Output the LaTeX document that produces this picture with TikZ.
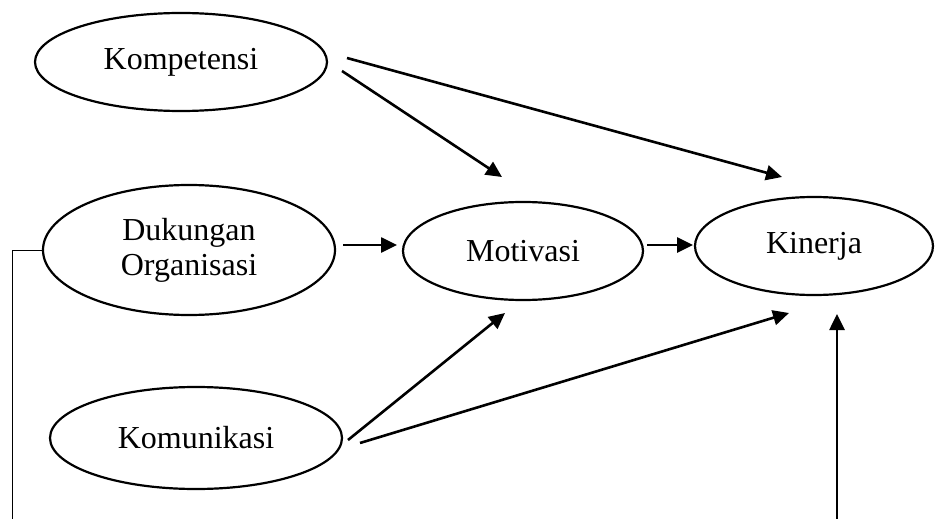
\documentclass[tikz,border=0pt]{standalone}
\usepackage{fontspec}
\setmainfont{Liberation Serif}
\usetikzlibrary{arrows.meta,shapes.geometric}
\begin{document}
\begin{tikzpicture}[x=1pt,y=-1pt,
  var/.style={ellipse, draw, line width=2.2pt, inner sep=0pt,
              font=\fontsize{32}{35}\selectfont, align=center},
  link/.style={line width=2.6pt, -{Triangle[length=16pt,width=15pt]}},
  feed/.style={line width=1pt}]
\useasboundingbox (0,0) rectangle (935,519);

% variables
\node[var, minimum width=292pt, minimum height=98pt]  (komp)   at (181,62)  {Kompetensi};
\node[var, minimum width=292pt, minimum height=130pt] (dukung) at (189,250) {Dukungan\\Organisasi};
\node[var, minimum width=240pt, minimum height=98pt]  (moti)   at (523,251) {Motivasi};
\node[var, minimum width=238pt, minimum height=98pt]  (kin)    at (814,246) {Kinerja};
\node[var, minimum width=292pt, minimum height=102pt] (komu)   at (196,438) {Komunikasi};

% arrow end points
\coordinate (kompA) at (342,71);
\coordinate (kompB) at (347,58);
\coordinate (motiTop) at (502,177);
\coordinate (kinTop) at (782,177);
\coordinate (dukOut) at (343,245);
\coordinate (motiIn) at (397,245);
\coordinate (motiOut) at (647,245);
\coordinate (kinIn) at (693,245);
\coordinate (komuA) at (348,440);
\coordinate (komuB) at (360,443);
\coordinate (motiBot) at (505,313);
\coordinate (kinBot) at (789,313);
\coordinate (extBot) at (837,519);
\coordinate (extTip) at (837,314);
\coordinate (feedBot) at (12,519);

% paths
\draw[link] (kompA) -- (motiTop);
\draw[link] (kompB) -- (kinTop);
\draw[link] (dukOut) -- (motiIn);
\draw[link] (motiOut) -- (kinIn);
\draw[link] (komuA) -- (motiBot);
\draw[link] (komuB) -- (kinBot);
\draw[link] (extBot) -- (extTip);
\draw[feed] (dukung.west) -| (feedBot);
\end{tikzpicture}
\end{document}
